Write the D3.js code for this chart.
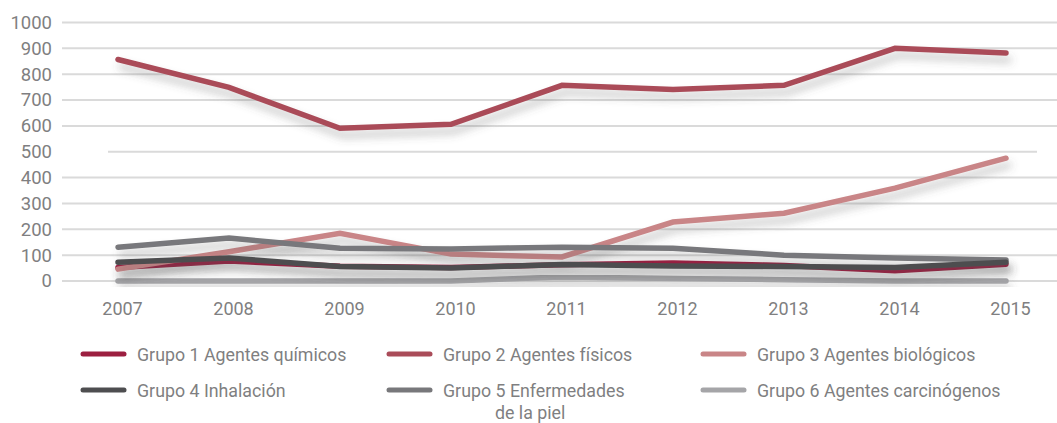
<!DOCTYPE html>
<html>
<head>
<meta charset="utf-8">
<script src="https://cdn.jsdelivr.net/npm/d3@7"></script>
<style>
body { margin: 0; background: #fff; }
text { font-family: Roboto, "Open Sans", sans-serif; fill: #7f7f81; }
</style>
</head>
<body>
<div id="chart"></div>
<script>
const width = 1057, height = 423;
const margin = {top: 22, bottom: 142, left: 62, right: 0};

const years = ["2007", "2008", "2009", "2010", "2011", "2012", "2013", "2014", "2015"];
const yTicks = [0, 100, 200, 300, 400, 500, 600, 700, 800, 900, 1000];

const grupo1 = [52, 77, 57, 52, 63, 70, 60, 40, 65];
const grupo2 = [857, 749, 591, 606, 757, 741, 757, 900, 882];
const grupo3 = [46, 113, 185, 104, 93, 228, 262, 359, 475];
const grupo4 = [73, 89, 56, 50, 64, 58, 56, 52, 73];
const grupo5 = [131, 166, 127, 124, 131, 127, 100, 89, 81];
const grupo6 = [0, 0, 0, 0, 15, 10, 5, 0, 0];

const names = ["Grupo 1 Agentes químicos", "Grupo 2 Agentes físicos", "Grupo 3 Agentes biológicos",
               "Grupo 4 Inhalación", "Grupo 5 Enfermedades", "Grupo 6 Agentes carcinógenos"];
const colors = ["#9c1f40", "#aa4c59", "#c98587", "#4e4e50", "#78787b", "#a5a5a8"];
const values = [grupo1, grupo2, grupo3, grupo4, grupo5, grupo6];

const svg = d3.select("#chart").append("svg")
  .attr("width", width)
  .attr("height", height);

const defs = svg.append("defs");
const filt = defs.append("filter").attr("id", "shadow")
  .attr("x", "-10%").attr("y", "-50%").attr("width", "130%").attr("height", "300%");
filt.append("feDropShadow")
  .attr("dx", 3).attr("dy", 7).attr("stdDeviation", 4)
  .attr("flood-color", "#555").attr("flood-opacity", 0.35);

const x = d3.scalePoint().domain(years).range([118, 1006]);
const y = d3.scaleLinear().domain([0, 1000]).range([281, 22.5]);

// gridlines
svg.append("g")
  .selectAll("line")
  .data(yTicks)
  .enter()
  .append("line")
    .attr("x1", d => d === 500 ? 108 : margin.left)
    .attr("x2", d => d === 500 ? 1037 : width)
    .attr("y1", d => y(d))
    .attr("y2", d => y(d))
    .attr("stroke", "#dadada")
    .attr("stroke-width", 2);

// y axis
const yAxis = svg.append("g")
  .attr("transform", "translate(52,0)")
  .call(d3.axisLeft(y).tickValues(yTicks).tickFormat(d3.format("d")).tickSize(0).tickPadding(0));
yAxis.select(".domain").remove();
yAxis.selectAll("text")
  .attr("font-size", 18.5)
  .attr("font-family", "Roboto, sans-serif")
  .attr("fill", "#7f7f81");

// x axis
const xAxis = svg.append("g")
  .attr("transform", "translate(4,302)")
  .call(d3.axisBottom(x).tickSize(0).tickPadding(0));
xAxis.select(".domain").remove();
xAxis.selectAll("text")
  .attr("font-size", 18)
  .attr("font-family", "Roboto, sans-serif")
  .attr("fill", "#7f7f81");

// lines
const line = d3.line()
  .x((d, i) => x(years[i]))
  .y(d => y(d));

const drawOrder = [5, 0, 2, 4, 3, 1];
svg.append("g")
  .selectAll("path")
  .data(drawOrder)
  .enter()
  .append("path")
    .attr("d", i => line(values[i]))
    .attr("fill", "none")
    .attr("stroke", i => colors[i])
    .attr("stroke-width", 5.5)
    .attr("stroke-linecap", "round")
    .attr("stroke-linejoin", "miter")
    .attr("filter", "url(#shadow)");

// legend
const legendX = [81, 387, 701];
const legendY = [354, 390];
const legend = svg.append("g")
  .selectAll("g")
  .data(names)
  .enter()
  .append("g")
    .attr("transform", (d, i) => `translate(${legendX[i % 3]},${legendY[Math.floor(i / 3)]})`);

legend.append("line")
  .attr("x1", 2).attr("x2", 43)
  .attr("y1", 0).attr("y2", 0)
  .attr("stroke", (d, i) => colors[i])
  .attr("stroke-width", 5)
  .attr("stroke-linecap", "round");

legend.append("text")
  .attr("x", 56)
  .attr("y", 6.5)
  .attr("font-size", 17.8)
  .text(d => d);

svg.append("text")
  .attr("x", 495)
  .attr("y", 419)
  .attr("font-size", 17.8)
  .text("de la piel");
</script>
</body>
</html>
